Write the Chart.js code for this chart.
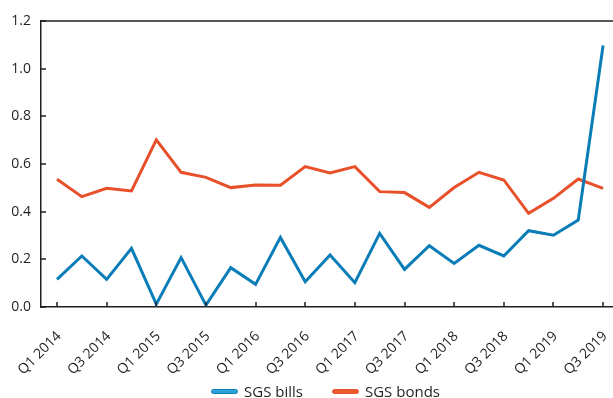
<!DOCTYPE html>
<html>
<head>
<meta charset="utf-8">
<script src="https://cdn.jsdelivr.net/npm/chart.js@4/dist/chart.umd.min.js"></script>
<style>
  html, body { margin: 0; padding: 0; background: #fff; overflow: hidden; }
  #wrap { width: 613px; height: 398px; position: relative; }
  #legend {
    position: absolute; left: 38px; right: 0; top: 382px;
    display: flex; justify-content: center; gap: 29px;
    font: 15px 'Open Sans', sans-serif; color: #231f20; line-height: 18px;
  }
  #legend .item { display: flex; align-items: center; }
  #legend .swatch {
    width: 25px; height: 3px; border-radius: 3px; margin-right: 6px;
    border: 1px solid;
  }
</style>
</head>
<body>
<div id="wrap"><canvas id="yields"></canvas><div id="legend"></div></div>
<script>
// Quarterly series, Q1 2014 - Q3 2019
const quarters = [
    'Q1 2014', 'Q2 2014', 'Q3 2014', 'Q4 2014',
    'Q1 2015', 'Q2 2015', 'Q3 2015', 'Q4 2015',
    'Q1 2016', 'Q2 2016', 'Q3 2016', 'Q4 2016',
    'Q1 2017', 'Q2 2017', 'Q3 2017', 'Q4 2017',
    'Q1 2018', 'Q2 2018', 'Q3 2018', 'Q4 2018',
    'Q1 2019', 'Q2 2019', 'Q3 2019'
];
const sgsBills = [
    0.116, 0.214, 0.116, 0.246,
    0.012, 0.207, 0.008, 0.165,
    0.095, 0.292, 0.106, 0.218,
    0.102, 0.309, 0.158, 0.257,
    0.183, 0.259, 0.214, 0.320,
    0.301, 0.365, 1.097
];
const sgsBonds = [
    0.536, 0.463, 0.498, 0.487,
    0.701, 0.565, 0.544, 0.501,
    0.512, 0.511, 0.589, 0.562,
    0.589, 0.484, 0.480, 0.418,
    0.501, 0.565, 0.533, 0.393,
    0.456, 0.537, 0.498
];
// only every second quarter gets a label
const xTickIndex = [0, 2, 4, 6, 8, 10, 12, 14, 16, 18, 20, 22];
const yTicks = [0, 0.2, 0.4, 0.6, 0.8, 1.0, 1.2];

const INK = '#231f20';
const BLUE = '#0a7db8';
const RED = '#e8502a';
const FONT = "'Open Sans', sans-serif";

const toPoints = (arr) => arr.map((v, i) => ({ x: i, y: v }));

// axis frame: top rule plus short inward tick marks
const framePlugin = {
    id: 'axisFrame',
    afterDatasetsDraw(chart) {
        const ctx = chart.ctx;
        const area = chart.chartArea;
        const xs = chart.scales.x;
        const ys = chart.scales.y;
        ctx.save();
        ctx.strokeStyle = INK;
        ctx.lineWidth = 1.5;
        ctx.beginPath();
        ctx.moveTo(area.left, area.top);
        ctx.lineTo(area.right, area.top);
        ctx.stroke();
        ctx.beginPath();
        for (const i of xTickIndex) {
            const px = Math.round(xs.getPixelForValue(i));
            ctx.moveTo(px, area.bottom);
            ctx.lineTo(px, area.bottom - 5);
        }
        for (const v of yTicks) {
            const py = Math.round(ys.getPixelForValue(v));
            ctx.moveTo(area.left, py);
            ctx.lineTo(area.left + 5, py);
        }
        ctx.stroke();
        ctx.restore();
    }
};

// legend built as html under the canvas
const htmlLegendPlugin = {
    id: 'htmlLegend',
    afterUpdate(chart) {
        const box = document.getElementById('legend');
        box.innerHTML = '';
        chart.data.datasets.forEach(ds => {
            const item = document.createElement('div');
            item.className = 'item';
            const swatch = document.createElement('span');
            swatch.className = 'swatch';
            swatch.style.background = ds.legendFill;
            swatch.style.borderColor = ds.borderColor;
            const text = document.createElement('span');
            text.textContent = ds.label;
            item.appendChild(swatch);
            item.appendChild(text);
            box.appendChild(item);
        });
    }
};

const lineStyle = {
    borderWidth: 3,
    pointRadius: 0,
    tension: 0,
    borderJoinStyle: 'miter',
    fill: false
};

new Chart(document.getElementById('yields'), {
    type: 'line',
    data: {
        datasets: [
            { label: 'SGS bills', data: toPoints(sgsBills), borderColor: BLUE, legendFill: '#2ea3da', ...lineStyle },
            { label: 'SGS bonds', data: toPoints(sgsBonds), borderColor: RED, legendFill: '#ec5a30', ...lineStyle }
        ]
    },
    options: {
        responsive: true,
        maintainAspectRatio: false,
        animation: false,
        layout: { padding: { top: 21, right: 0, left: 0, bottom: 0 } },
        scales: {
            x: {
                type: 'linear',
                min: -0.645,
                max: 22.4,
                afterBuildTicks: (scale) => {
                    scale.ticks = xTickIndex.map(v => ({ value: v }));
                },
                afterFit: (scale) => {
                    scale.height = 91;
                    scale.paddingLeft = 0;
                    scale.paddingRight = 0;
                },
                ticks: {
                    autoSkip: false,
                    minRotation: 45,
                    maxRotation: 45,
                    padding: 21,
                    labelOffset: 2,
                    color: INK,
                    font: { family: FONT, size: 14 },
                    callback: (v) => quarters[v]
                },
                grid: { display: false, drawTicks: false },
                border: { color: INK, width: 1.5 }
            },
            y: {
                min: 0,
                max: 1.2,
                afterBuildTicks: (scale) => {
                    scale.ticks = yTicks.map(v => ({ value: v }));
                },
                afterFit: (scale) => { scale.width = 41; },
                ticks: {
                    padding: 10,
                    color: INK,
                    font: { family: FONT, size: 14 },
                    callback: (v) => v.toFixed(1)
                },
                grid: { display: false, drawTicks: false },
                border: { color: INK, width: 1.5 }
            }
        },
        plugins: {
            legend: { display: false },
            tooltip: { enabled: false }
        }
    },
    plugins: [framePlugin, htmlLegendPlugin]
});
</script>
</body>
</html>
